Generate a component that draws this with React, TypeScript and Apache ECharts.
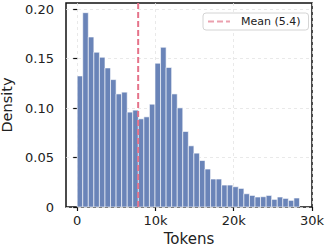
import React, { useEffect, useRef } from "react";
import * as echarts from "echarts";

const BIN_WIDTH = 710; // tokens per bin
const densities = [
  0.1326, 0.1966, 0.172, 0.1566, 0.1515, 0.1407, 0.1289, 0.1144, 0.1162, 0.096,
  0.098, 0.0892, 0.0912, 0.104, 0.1455, 0.1616, 0.1412, 0.1144, 0.1003, 0.0764,
  0.0619, 0.0545, 0.047, 0.0384, 0.0283, 0.0283, 0.0222, 0.0222, 0.0205, 0.0188,
  0.0134, 0.0117, 0.0101, 0.0104, 0.0117, 0.0077, 0.0101, 0.0087, 0.0067, 0.0091,
];
const meanValue = 7790;
const meanLabel = "Mean (5.4)";
const xTicks = [0, 10000, 20000, 30000];
const yTicks = [0, 0.05, 0.1, 0.15, 0.2];
const X_MIN = -1430;
const X_MAX = 30000;
const Y_MAX = 0.2064;

const FONT = "DejaVu Sans";

export default function App() {
  const ref = useRef<HTMLDivElement>(null);
  useEffect(() => {
    if (!ref.current) return;
    const chart = echarts.init(ref.current, null, { renderer: "svg" });
    const barData = densities.map((d, i) => [i * BIN_WIDTH, (i + 1) * BIN_WIDTH, d]);
    const gridLine = { show: true, lineStyle: { color: "#e3e3e3", width: 0.8, type: [3, 3] } };
    chart.setOption({
      animation: false,
      textStyle: { fontFamily: FONT },
      grid: {
        left: 66,
        top: 3,
        right: 13,
        bottom: 42,
        containLabel: false,
        outerBoundsMode: "none",
        show: true,
        borderColor: "#111",
        borderWidth: 1.5,
        backgroundColor: "transparent",
      },
      legend: {
        data: [meanLabel],
        left: 203,
        top: 13,
        orient: "horizontal",
        itemWidth: 22,
        itemHeight: 10,
        itemStyle: { opacity: 0 },
        lineStyle: { width: 2, color: "#eba0ae" },
        backgroundColor: "#fff",
        borderColor: "#d4d4d4",
        borderWidth: 1,
        borderRadius: 3,
        padding: [3, 8, 3, 4],
        textStyle: { fontFamily: FONT, fontSize: 11, color: "#222", padding: [0, 0, 0, 6] },
      },
      xAxis: {
        type: "value",
        min: X_MIN,
        max: X_MAX,
        name: "Tokens",
        nameLocation: "middle",
        nameGap: 21,
        nameTextStyle: { fontFamily: FONT, fontSize: 15, color: "#222" },
        axisLine: { show: false },
        axisTick: { show: true, customValues: xTicks, length: 4, lineStyle: { color: "#111", width: 1.2 } },
        axisLabel: {
          customValues: xTicks,
          margin: 7,
          fontFamily: FONT,
          fontSize: 13,
          color: "#222",
          formatter: (v: number) => (v === 0 ? "0" : `${Math.round(v / 1000)}k`),
        },
        splitLine: gridLine,
      },
      yAxis: {
        type: "value",
        min: 0,
        max: Y_MAX,
        name: "Density",
        nameLocation: "middle",
        nameGap: 48,
        nameTextStyle: { fontFamily: FONT, fontSize: 14.5, color: "#222" },
        axisLine: { show: false },
        axisTick: { show: true, customValues: yTicks, length: 4, lineStyle: { color: "#111", width: 1.2 } },
        axisLabel: {
          customValues: yTicks,
          margin: 12,
          fontFamily: FONT,
          fontSize: 13,
          color: "#222",
          formatter: (v: number) => (v === 0 ? "0" : v.toFixed(2)),
        },
        splitLine: gridLine,
      },
      series: [
        {
          type: "custom",
          name: "hist",
          data: barData,
          encode: { x: [0, 1], y: 2 },
          renderItem: (params: any, api: any) => {
            const p0 = api.coord([api.value(0), api.value(2)]);
            const p1 = api.coord([api.value(1), 0]);
            return {
              type: "rect",
              shape: { x: p0[0], y: p0[1], width: p1[0] - p0[0], height: p1[1] - p0[1] },
              style: { fill: "#6a84b8", stroke: "#ffffff", lineWidth: 0.6 },
            };
          },
          z: 2,
        },
        {
          type: "line",
          name: meanLabel,
          data: [
            [meanValue, 0],
            [meanValue, Y_MAX],
          ],
          symbol: "none",
          lineStyle: { color: "#e5738a", width: 2, type: [6, 3] },
          itemStyle: { color: "#e5738a" },
          z: 3,
        },
      ],
    });
    return () => chart.dispose();
  }, []);
  return <div ref={ref} style={{ width: 325, height: 249, position: "absolute", left: 0, top: 0 }} />;
}
